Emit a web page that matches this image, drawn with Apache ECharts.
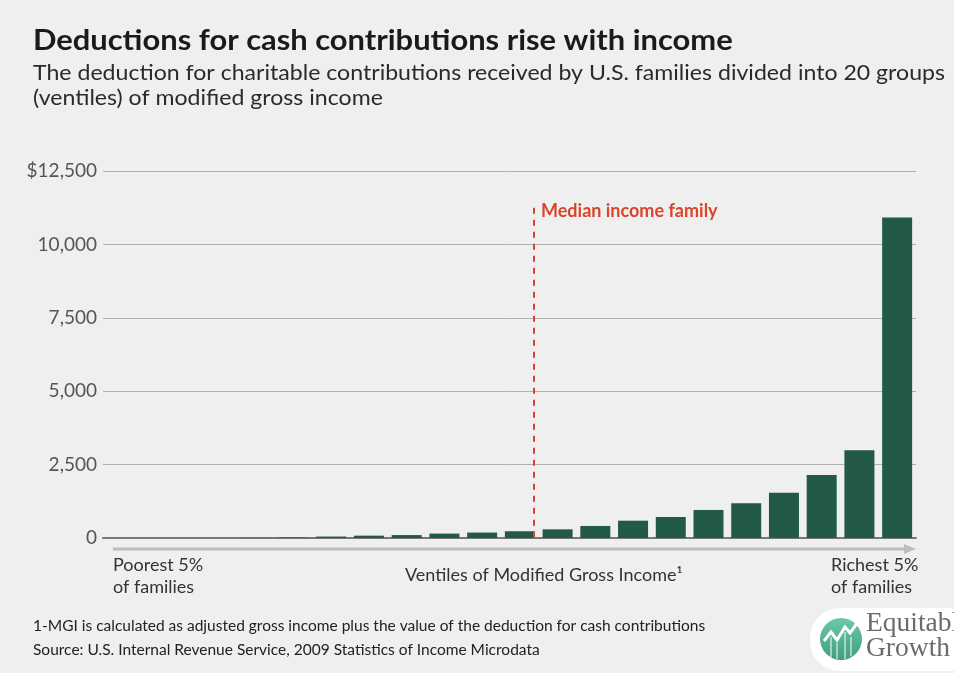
<!DOCTYPE html>
<html><head><meta charset="utf-8">
<script src="https://cdn.jsdelivr.net/npm/echarts@6/dist/echarts.min.js"></script>
<style>html,body{margin:0;padding:0;background:#efefef;}#c{width:954px;height:673px;}</style>
</head><body><div id="c"></div>
<script>
const ventiles = [1,2,3,4,5,6,7,8,9,10,11,12,13,14,15,16,17,18,19,20];
const deduction = [0,0,5,15,50,80,100,150,185,230,295,410,590,715,955,1180,1545,2150,2990,10920];
const yTicks = [0,2500,5000,7500,10000,12500];
const medianPosition = 9.36;
const titleText = 'Deductions for cash contributions rise with income';
const subtitleText = 'The deduction for charitable contributions received by U.S. families divided into 20 groups\n(ventiles) of modified gross income';
const noteText = '1-MGI is calculated as adjusted gross income plus the value of the deduction for cash contributions';
const sourceText = 'Source: U.S. Internal Revenue Service, 2009 Statistics of Income Microdata';

const chart = echarts.init(document.getElementById('c'));
const F = 'Lato';
chart.setOption({
  backgroundColor: '#efefef',
  animation: false,
  textStyle: {fontFamily: F},
  grid: {left: 103, right: 38, top: 171, bottom: 135, containLabel: false},
  xAxis: {
    type: 'value', min: -2.05, max: 19.5,
    axisLine: {show: true, onZero: false, lineStyle: {color: '#777', width: 2}},
    axisTick: {show: false}, axisLabel: {show: false}, splitLine: {show: false}
  },
  yAxis: {
    type: 'value', min: yTicks[0], max: yTicks[yTicks.length-1], interval: 2500,
    axisLine: {show: false}, axisTick: {show: false},
    axisLabel: {
      margin: 6, fontSize: 19, color: '#555', fontFamily: F,
      formatter: v => (v === 12500 ? '$' : '') + v.toString().replace(/\B(?=(\d{3})+(?!\d))/g, ',')
    },
    splitLine: {lineStyle: {color: '#b0b0b0', width: 1}}
  },
  series: [{
    type: 'bar', barWidth: 30,
    data: deduction.map((v, i) => [i, v]),
    itemStyle: {color: '#225a45'},
    markLine: {
      symbol: 'none', silent: true,
      lineStyle: {color: '#d9442b', width: 2, type: [6, 6]},
      label: {show: false},
      data: [[{coord: [medianPosition, 11250]}, {coord: [medianPosition, 0]}]]
    }
  }],
  graphic: [
    {type: 'text', x: 33, y: 26, scaleX: 1.065, style: {text: titleText, font: 'bold 29px Lato', fill: '#1a1a1a'}},
    {type: 'text', x: 33, y: 61, scaleX: 1.1, style: {text: subtitleText, font: '21px Lato', fill: '#2a2a2a', lineHeight: 25}},
    {type: 'text', left: 541, top: 202, style: {text: 'Median income family', font: 'bold 18px Lato', fill: '#d9442b'}},
    {type: 'line', shape: {x1: 113, y1: 549, x2: 906, y2: 549}, style: {stroke: '#bdbdbd', lineWidth: 3}},
    {type: 'polygon', shape: {points: [[904, 544], [916, 549], [904, 554]]}, style: {fill: '#bdbdbd'}},
    {type: 'text', left: 113, top: 554, style: {text: 'Poorest 5%\nof families', font: '18px Lato', fill: '#333', lineHeight: 22}},
    {type: 'text', left: 405, top: 566, style: {text: 'Ventiles of Modified Gross Income¹', font: '18px Lato', fill: '#333'}},
    {type: 'text', left: 831, top: 554, style: {text: 'Richest 5%\nof families', font: '18px Lato', fill: '#333', lineHeight: 22}},
    {type: 'text', left: 33, top: 618, style: {text: noteText, font: '15.5px Lato', fill: '#222'}},
    {type: 'text', left: 33, top: 642, style: {text: sourceText, font: '15.5px Lato', fill: '#222'}},
    {type: 'rect', shape: {x: 810, y: 608, width: 170, height: 63, r: 30}, style: {fill: '#ffffff'}},
    {type: 'circle', shape: {cx: 841, cy: 639, r: 21}, style: {fill: new echarts.graphic.LinearGradient(0,0,0,1,[{offset:0,color:'#6cc8ac'},{offset:1,color:'#3f9e80'}])}},
    {type: 'polyline', shape: {points: [[824, 641], [831, 632], [837, 640], [845, 627], [850, 633], [858, 622]]}, style: {stroke: '#fff', lineWidth: 3, fill: null}},
    {type: 'line', shape: {x1: 831, y1: 637, x2: 831, y2: 657}, style: {stroke: '#fff', lineWidth: 1}},
    {type: 'line', shape: {x1: 837, y1: 643, x2: 837, y2: 659}, style: {stroke: '#fff', lineWidth: 1}},
    {type: 'line', shape: {x1: 845, y1: 632, x2: 845, y2: 659}, style: {stroke: '#fff', lineWidth: 1}},
    {type: 'line', shape: {x1: 851, y1: 637, x2: 851, y2: 656}, style: {stroke: '#fff', lineWidth: 1}},
    {type: 'text', left: 866, top: 610, style: {text: 'Equitable', font: '27.5px "Liberation Serif"', fill: '#6b6b6b'}},
    {type: 'text', left: 866, top: 635, style: {text: 'Growth', font: '27.5px "Liberation Serif"', fill: '#6b6b6b'}}
  ]
});
</script></body></html>
